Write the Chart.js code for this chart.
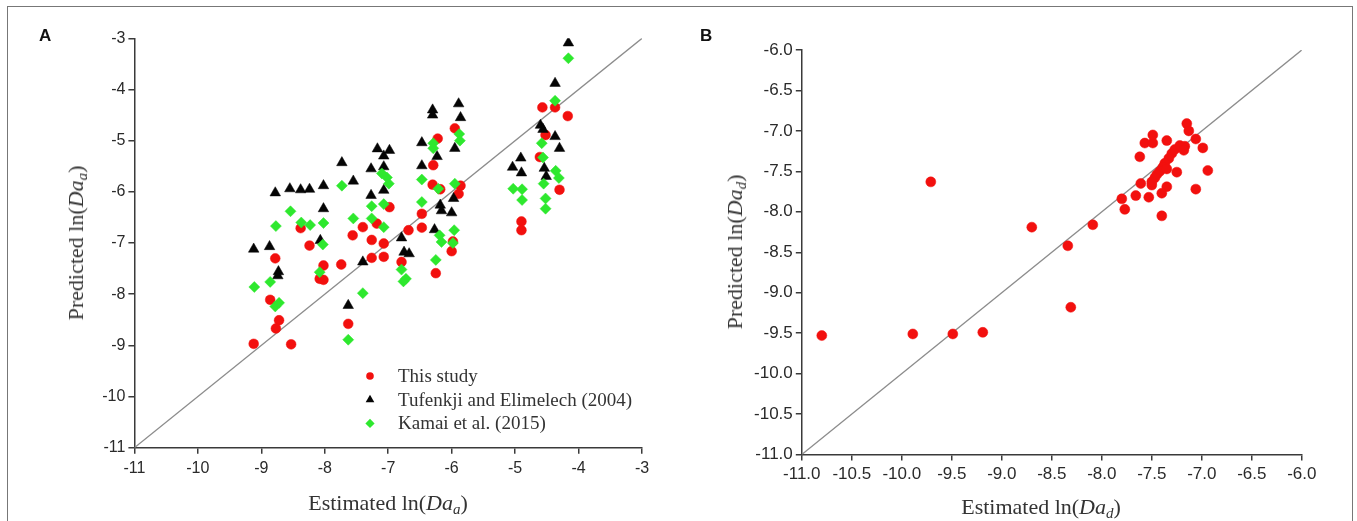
<!DOCTYPE html>
<html>
<head>
<meta charset="utf-8">
<title>Predicted vs estimated ln(Da)</title>
<script src="https://cdn.jsdelivr.net/npm/chart.js@4.4.1/dist/chart.umd.min.js"></script>
<style>
  html, body { margin: 0; padding: 0; background: #fff; }
  #figure { position: relative; width: 1357px; height: 521px; overflow: hidden; background: #fff; }
  #figure .frame {
    position: absolute; left: 7px; top: 6px; width: 1346px; height: 540px;
    border: 1.5px solid #777; box-sizing: border-box;
  }
  canvas { position: absolute; top: 0; }
  #chartA { left: 0; }
  #chartB { left: 680px; }
  .tag { position: absolute; font: bold 17px "Liberation Sans", Arial, sans-serif; color: #111; }
  .title { position: absolute; font: 22px "Liberation Serif", "Times New Roman", serif; color: #333; white-space: nowrap; }
  .title sub { font-size: 0.68em; vertical-align: -0.3em; line-height: 0; }
  .title.x { transform: translate(-50%, -50%); }
  .title.y { transform: translate(-50%, -50%) rotate(-90deg); }
</style>
</head>
<body>
<div id="figure">
  <div class="frame"></div>
  <canvas id="chartA" width="680" height="521"></canvas>
  <canvas id="chartB" width="677" height="521"></canvas>
  <div class="tag" style="left:39px; top:26px;">A</div>
  <div class="tag" style="left:700px; top:26px;">B</div>
  <div class="title x" style="left:388px; top:503px;">Estimated ln(<i>Da</i><sub><i>a</i></sub>)</div>
  <div class="title y" style="left:76px; top:243px;">Predicted ln(<i>Da</i><sub><i>a</i></sub>)</div>
  <div class="title x" style="left:1041px; top:507px;">Estimated ln(<i>Da</i><sub><i>d</i></sub>)</div>
  <div class="title y" style="left:735px; top:252px;">Predicted ln(<i>Da</i><sub><i>d</i></sub>)</div>
</div>
<script>
// 目盛り（A: 整数刻み, B: 0.5 刻み）
const ticksA = [-11, -10, -9, -8, -7, -6, -5, -4, -3];
const ticksB = [-11.0, -10.5, -10.0, -9.5, -9.0, -8.5, -8.0, -7.5, -7.0, -6.5, -6.0];

// 1:1 線
const identityA = [[-11, -11], [-3, -3]];
const identityB = [[-11, -11], [-6, -6]];

// A: [estimated, predicted]
const thisStudyA = [
  [-9.12, -8.97], [-8.86, -8.11], [-8.72, -8.51], [-8.77, -8.67], [-8.53, -8.98], [-8.78, -7.30],
  [-8.38, -6.71], [-8.24, -7.05], [-8.02, -7.44], [-8.08, -7.70], [-8.02, -7.72], [-7.74, -7.42],
  [-7.63, -8.58], [-7.56, -6.85], [-7.40, -6.69], [-7.18, -6.62], [-7.26, -6.94], [-7.07, -7.01],
  [-7.26, -7.29], [-7.07, -7.27], [-6.98, -6.30], [-6.79, -7.37], [-6.68, -6.75], [-6.47, -6.70],
  [-6.47, -6.43], [-6.25, -7.59], [-6.00, -7.16], [-5.98, -6.97], [-6.29, -5.48], [-6.30, -5.86],
  [-6.18, -5.95], [-6.22, -4.96], [-5.95, -4.76], [-5.86, -5.88], [-5.89, -6.04], [-4.90, -6.58],
  [-4.90, -6.75], [-4.57, -4.35], [-4.37, -4.35], [-4.17, -4.52], [-4.52, -4.89], [-4.61, -5.32],
  [-4.30, -5.96]
];
const tufenkjiA = [
  [-9.12, -7.12], [-8.87, -7.07], [-8.73, -7.56], [-8.74, -7.64], [-8.78, -6.02], [-8.55, -5.94],
  [-8.38, -5.96], [-8.24, -5.95], [-8.02, -5.88], [-8.02, -6.33], [-8.07, -6.95], [-7.73, -5.43],
  [-7.55, -5.79], [-7.63, -8.22], [-7.40, -7.37], [-7.27, -5.55], [-7.17, -5.16], [-6.98, -5.19],
  [-7.07, -5.30], [-7.07, -5.51], [-7.07, -5.97], [-7.27, -6.07], [-6.79, -6.90], [-6.75, -7.18],
  [-6.67, -7.21], [-6.30, -4.40], [-6.30, -4.50], [-6.47, -5.04], [-6.23, -5.31], [-6.47, -5.49],
  [-6.18, -6.26], [-6.16, -6.37], [-6.27, -6.74], [-5.97, -6.13], [-6.00, -6.41], [-5.89, -4.28],
  [-5.86, -4.55], [-5.95, -5.15], [-4.16, -3.09], [-4.37, -3.88], [-4.60, -4.70], [-4.56, -4.78],
  [-4.37, -4.92], [-4.30, -5.15], [-4.91, -5.34], [-5.04, -5.52], [-4.90, -5.63], [-4.54, -5.54],
  [-4.51, -5.70]
];
const kamaiA = [
  [-9.11, -7.86], [-8.86, -7.76], [-8.78, -8.24], [-8.72, -8.17], [-8.77, -6.67], [-8.54, -6.38],
  [-8.37, -6.60], [-8.23, -6.65], [-8.02, -6.61], [-8.03, -7.03], [-8.08, -7.57], [-7.73, -5.88],
  [-7.55, -6.52], [-7.40, -7.98], [-7.63, -8.89], [-7.26, -6.28], [-7.26, -6.52], [-7.07, -6.24],
  [-7.07, -6.69], [-7.10, -5.64], [-6.99, -5.84], [-7.02, -5.72], [-6.79, -7.52], [-6.72, -7.70],
  [-6.76, -7.75], [-6.29, -5.05], [-6.29, -5.15], [-6.47, -5.76], [-6.47, -6.20], [-6.21, -5.94],
  [-5.95, -5.84], [-6.19, -6.85], [-6.16, -6.98], [-5.96, -6.75], [-5.98, -7.00], [-6.25, -7.33],
  [-5.88, -4.87], [-5.87, -5.00], [-4.16, -3.39], [-4.37, -4.22], [-4.58, -5.05], [-4.56, -5.33],
  [-4.36, -5.59], [-4.31, -5.73], [-4.55, -5.84], [-4.52, -6.13], [-4.52, -6.33], [-5.03, -5.94],
  [-4.89, -5.95], [-4.89, -6.16]
];

// B: [estimated, predicted]
const thisStudyB = [
  [-10.80, -9.53], [-9.89, -9.51], [-9.49, -9.51], [-9.19, -9.49], [-8.31, -9.18], [-9.71, -7.63],
  [-8.70, -8.19], [-8.34, -8.42], [-8.09, -8.16], [-7.80, -7.84], [-7.77, -7.97], [-7.66, -7.80],
  [-7.53, -7.82], [-7.61, -7.65], [-7.50, -7.67], [-7.35, -7.69], [-7.40, -7.77], [-7.40, -8.05],
  [-7.06, -7.72], [-7.62, -7.32], [-7.57, -7.15], [-7.49, -7.15], [-7.49, -7.05], [-7.35, -7.12],
  [-7.30, -7.28], [-7.33, -7.34], [-7.37, -7.40], [-7.39, -7.45], [-7.42, -7.50], [-7.45, -7.54],
  [-7.47, -7.58], [-7.50, -7.63], [-7.35, -7.47], [-7.25, -7.51], [-7.27, -7.23], [-7.22, -7.18],
  [-7.17, -7.19], [-7.18, -7.24], [-7.15, -6.91], [-7.13, -7.00], [-7.06, -7.10], [-6.99, -7.21],
  [-6.94, -7.49]
];

const RED = '#f2100e';
const GREEN = '#2ee82e';
const BLACK = '#050505';
const AXIS = '#3a3a3a';

const toXY = (pairs) => pairs.map(([x, y]) => ({ x, y }));

/**
 * プロット領域の外側に固定幅の軸ボックスを確保する。
 * - 端ラベルによる余白の自動追加を止めて、プロット位置を揃えるため。
 */
function fixedAxisBox(size) {
  return (scale) => {
    if (scale.isHorizontal()) scale.height = size;
    else scale.width = size;
    scale.paddingLeft = 0;
    scale.paddingRight = 0;
    scale.paddingTop = 0;
    scale.paddingBottom = 0;
  };
}

// 凡例をプロット内部に描く（ラベル付きデータセットのみ）
const insideLegend = {
  id: 'insideLegend',
  afterDatasetsDraw(chart, args, opts) {
    if (!opts || !opts.display) return;
    const ctx = chart.ctx;
    const items = chart.data.datasets.filter((ds) => ds.label);
    ctx.save();
    items.forEach((ds, i) => {
      const y = opts.top + i * opts.rowGap;
      ctx.fillStyle = ds.backgroundColor;
      ctx.strokeStyle = ds.backgroundColor;
      Chart.helpers.drawPoint(ctx, {
        pointStyle: ds.pointStyle,
        radius: opts.markerRadius[ds.pointStyle] || 4,
        rotation: 0,
        borderWidth: 0,
      }, opts.left, y);
      ctx.fillStyle = opts.color;
      ctx.font = opts.font;
      ctx.textBaseline = 'middle';
      ctx.textAlign = 'left';
      ctx.fillText(ds.label, opts.left + opts.textOffset, y + 1);
    });
    ctx.restore();
  },
};

function axisOptions(ticks, fontSize, box, labelPadding, fmt) {
  return {
    type: 'linear',
    min: ticks[0],
    max: ticks[ticks.length - 1],
    afterBuildTicks: (scale) => {
      scale.ticks = ticks.map((value) => ({ value }));
    },
    afterFit: fixedAxisBox(box),
    border: { display: true, color: AXIS, width: 1.5 },
    grid: {
      drawOnChartArea: false,
      drawTicks: true,
      tickLength: 6,
      color: AXIS,
      lineWidth: 1.5,
    },
    ticks: {
      color: '#2a2a2a',
      padding: labelPadding,
      font: { family: '"Liberation Sans", Arial, sans-serif', size: fontSize },
      callback: fmt,
      maxRotation: 0,
      autoSkip: false,
    },
  };
}

function identityDataset(pairs) {
  return {
    type: 'line',
    label: '',
    data: toXY(pairs),
    borderColor: '#8c8c8c',
    borderWidth: 1.3,
    pointRadius: 0,
    fill: false,
    order: 4,
  };
}

const intLabel = (v) => String(v);
const halfLabel = (v) => Number(v).toFixed(1);

new Chart(document.getElementById('chartA'), {
  type: 'scatter',
  data: {
    datasets: [
      {
        label: 'This study',
        data: toXY(thisStudyA),
        pointStyle: 'circle',
        pointRadius: 4.9,
        backgroundColor: RED,
        borderColor: RED,
        borderWidth: 0.5,
        order: 3,
      },
      {
        label: 'Tufenkji and Elimelech (2004)',
        data: toXY(tufenkjiA),
        pointStyle: 'triangle',
        pointRadius: 6.1,
        backgroundColor: BLACK,
        borderColor: BLACK,
        borderWidth: 0.5,
        order: 2,
      },
      {
        label: 'Kamai et al. (2015)',
        data: toXY(kamaiA),
        pointStyle: 'rectRot',
        pointRadius: 5.5,
        backgroundColor: GREEN,
        borderColor: GREEN,
        borderWidth: 0.5,
        order: 1,
      },
      identityDataset(identityA),
    ],
  },
  options: {
    responsive: false,
    animation: false,
    layout: { padding: { left: 64.4, right: 38, top: 38.3, bottom: 33.3 } },
    plugins: {
      legend: { display: false },
      tooltip: { enabled: false },
      insideLegend: {
        display: true,
        left: 370,
        top: 376,
        rowGap: 23.7,
        textOffset: 28,
        color: '#333',
        font: '19px "Liberation Serif", "Times New Roman", serif',
        markerRadius: { circle: 3.8, triangle: 5, rectRot: 4.6 },
      },
    },
    scales: {
      x: axisOptions(ticksA, 16, 40, 5, intLabel),
      y: axisOptions(ticksA, 16, 70, 3, intLabel),
    },
  },
  plugins: [insideLegend],
});

new Chart(document.getElementById('chartB'), {
  type: 'scatter',
  data: {
    datasets: [
      {
        label: 'This study',
        data: toXY(thisStudyB),
        pointStyle: 'circle',
        pointRadius: 5,
        backgroundColor: RED,
        borderColor: RED,
        borderWidth: 0.5,
        order: 1,
      },
      identityDataset(identityB),
    ],
  },
  options: {
    responsive: false,
    animation: false,
    layout: { padding: { left: 51.8, right: 55.2, top: 50, bottom: 26.5 } },
    plugins: {
      legend: { display: false },
      tooltip: { enabled: false },
      insideLegend: { display: false },
    },
    scales: {
      x: axisOptions(ticksB, 17, 40, 4, halfLabel),
      y: axisOptions(ticksB, 17, 70, 3, halfLabel),
    },
  },
  plugins: [insideLegend],
});
</script>
</body>
</html>
